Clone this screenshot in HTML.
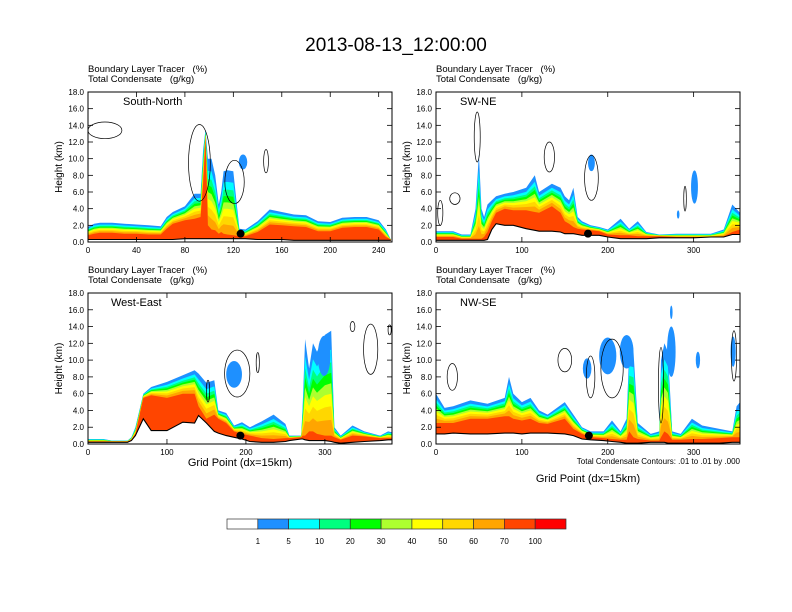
<!DOCTYPE html>
<html><head><meta charset="utf-8"><style>
body{margin:0;background:#fff;}
svg{display:block;font-family:"Liberation Sans",sans-serif;}
text{white-space:pre;}
</style></head><body>
<svg id="fig" width="792" height="612" viewBox="0 0 792 612">
<rect width="792" height="612" fill="#fff"/>
<text x="396" y="51" font-size="19" text-anchor="middle">2013-08-13_12:00:00</text>
<g id="panels"></g>
<g id="colorbar"></g>
<text x="740" y="464" font-size="8" text-anchor="end">Total Condensate Contours: .01 to .01 by .000</text>
</svg>
<script>
// ---- data ----
const yTicks = [0,2,4,6,8,10,12,14,16,18];
const levelLabels = ["1","5","10","20","30","40","50","60","70","100"];
const levelColors = ["#ffffff","#1e90ff","#00ffff","#00ff7f","#00ff00","#adff2f","#ffff00","#ffd700","#ffa500","#ff4500","#ff0000"];

const snX = [0,5,10,20,30,40,50,60,65,70,80,88,93,95,97,99,102,105,108,110,112,115,120,125,130,140,150,160,170,180,190,200,210,220,230,240,246,250];
const snBlue = [1.8,2.2,2.3,2.3,2.2,2.1,2.0,1.9,3.0,3.6,4.3,5.8,5.8,11,13.5,10,10,8,4.5,6,8.5,8.6,8.5,1.6,1.5,2.5,3.9,3.6,3.3,3.2,2.5,2.4,2.9,3.0,3.0,2.6,1.5,0.3];
const snRed = [0.8,1.0,1.1,1.1,1.0,1.0,0.9,0.9,1.6,2.2,2.6,2.8,3.0,7,12.5,2,1.5,1.4,1.0,1.2,1.0,0.9,0.8,0.7,0.7,1.2,2.1,2.0,1.9,1.8,1.3,1.3,1.7,1.8,1.8,1.5,0.6,0.3];
const snTerrain = [0.3,0.3,0.3,0.3,0.3,0.3,0.3,0.3,0.3,0.3,0.4,0.4,0.4,0.4,0.4,0.4,0.4,0.4,0.4,0.4,0.4,0.4,0.4,0.4,0.4,0.3,0.3,0.3,0.2,0.2,0.2,0.2,0.2,0.2,0.2,0.2,0.2,0.2];
const snBlobs = [[128,9.6,3.5,0.9]];
const snContours = [[92,9.5,9,4.6],[121,7.2,8,2.6],[147,9.7,2,1.4],[14,13.4,14,1.0]];

const swX = [0,20,30,40,46,50,53,56,60,65,70,80,90,105,115,120,135,145,150,155,160,165,170,180,190,200,215,225,235,245,260,280,300,320,335,345,354];
const swBlue = [1.3,1.3,0.9,0.9,4,10.5,4,3,4.5,5,5.5,5.8,6.0,6.5,8,6.0,7.0,6.5,5.5,5,6.5,3,2.5,2.0,1.8,1.5,2.8,1.6,2.5,1.2,0.9,1.0,1.0,1.0,1.5,4.5,3.5];
const swRed = [0.6,0.6,0.4,0.4,0.4,0.4,0.4,0.6,1.2,2.5,3.5,4.0,3.8,3.8,3.6,3.5,4.3,3.5,2.5,2.2,1.8,1.6,1.5,1.4,1.3,0.9,0.8,0.8,0.7,0.7,0.7,0.6,0.6,0.6,0.7,1.2,1.5];
const swTerrain = [0.2,0.2,0.2,0.2,0.2,0.2,0.2,0.2,0.3,1.5,2.2,2.0,2.0,1.6,1.4,1.3,1.3,1.2,1.0,1.0,1.0,0.9,0.8,0.8,0.8,0.6,0.4,0.4,0.4,0.4,0.5,0.5,0.5,0.6,0.6,0.9,0.9];
const swBlobs = [[181,9.5,4,1.0],[301,6.6,4,2.0],[282,3.3,1.5,0.5]];
const swContours = [[5,3.5,3,1.5],[22,5.2,6,0.7],[48,12.6,3.5,3],[132,10.2,6,1.8],[181,7.7,8,2.7],[290,5.2,1.5,1.5]];

const weX = [0,20,30,50,55,60,70,80,100,120,135,140,150,160,165,175,185,195,205,220,235,250,255,270,272,275,280,285,290,300,308,312,320,335,350,370,380,385];
const weBlue = [0.6,0.6,0.4,0.4,0.8,2.0,6.0,6.8,7.4,8.2,8.8,8.4,7.3,7.6,4,3.7,2.2,2.6,2.0,2.7,3.5,2.4,1.0,1.0,5,12.5,9,12,11,13,13.5,2,1.0,2.2,1.5,1.0,1.5,1.4];
const weRed = [0.3,0.3,0.3,0.3,0.5,1.2,5.5,5.8,5.5,6.0,6.0,4.5,3.0,3.5,3.0,2.5,1.5,1.2,1.0,0.7,0.6,0.7,0.7,0.8,1.0,1.0,1.5,1.5,1.2,1.0,1.0,0.8,0.5,1.0,0.9,0.7,0.7,0.7];
const weTerrain = [0.2,0.2,0.2,0.2,0.4,1.0,3.0,1.6,1.6,2.6,2.5,3.4,2.5,1.5,1.3,1.0,0.8,0.6,0.3,0.2,0.2,0.3,0.4,0.6,0.6,0.5,0.4,0.4,0.4,0.4,0.3,0.2,0.1,0.2,0.3,0.4,0.5,0.5];
const weBlobs = [[185,8.3,10,1.6],[299,10.5,8,2.4]];
const weContours = [[189,8.4,16,2.8],[215,9.7,2,1.2],[152,6.3,2,1.3],[358,11.3,9,3],[335,14,3,0.6],[382,13.6,2,0.6]];

const nwX = [0,10,20,40,60,80,85,90,100,110,120,130,150,160,170,180,195,205,215,222,225,230,235,250,260,262,266,270,275,285,298,310,330,345,350,354];
const nwBlue = [6.0,4.3,4.5,5.2,4.8,5.5,8,6,5.0,5.5,4.0,3.5,5.0,3.5,2.0,1.5,1.5,2.8,1.5,3,11,11,2.5,1.2,1.5,10,12,11,1.5,1.2,3,2.2,1.8,1.5,4.5,5];
const nwRed = [2.5,2.5,2.5,3.0,3.0,3.3,3.3,3.0,2.8,3.0,2.5,2.4,3.0,1.8,1.2,0.8,0.7,0.6,0.5,0.5,1.5,0.8,0.6,0.4,0.4,0.8,1.5,1.2,0.5,0.5,0.6,0.6,0.7,0.8,0.8,0.8];
const nwTerrain = [1.2,1.2,1.3,1.2,1.2,1.3,1.3,1.3,1.2,1.3,1.3,1.3,1.2,1.0,0.6,0.5,0.4,0.3,0.2,0.1,0.1,0.1,0.1,0.2,0.2,0.2,0.2,0.1,0.1,0.1,0.1,0.1,0.1,0.2,0.2,0.2];
const nwBlobs = [[176,9,5,1.2],[200,10.5,10,2.2],[222,11,8,2.0],[274,11,5,3.0],[274,15.7,1.5,0.8],[305,10,2.5,1.0],[346,11,3,1.8]];
const nwContours = [[19,8,6,1.6],[150,10,8,1.4],[180,8,5,2.5],[205,9,13,3.5],[262,7,3,4.5],[347,10.5,3,3]];

const panels = [
 {name:"south-north",label:"South-North",x0:88,y0:92,w:304,h:150,xmax:251,xTicks:[0,40,80,120,160,200,240],
  xs:snX,blue:snBlue,red:snRed,terr:snTerrain,blobs:snBlobs,cont:snContours,dot:126,xlabel:false},
 {name:"sw-ne",label:"SW-NE",x0:436,y0:92,w:304,h:150,xmax:354,xTicks:[0,100,200,300],
  xs:swX,blue:swBlue,red:swRed,terr:swTerrain,blobs:swBlobs,cont:swContours,dot:177,xlabel:false},
 {name:"west-east",label:"West-East",x0:88,y0:293,w:304,h:151,xmax:385,xTicks:[0,100,200,300],
  xs:weX,blue:weBlue,red:weRed,terr:weTerrain,blobs:weBlobs,cont:weContours,dot:193,xlabel:466},
 {name:"nw-se",label:"NW-SE",x0:436,y0:293,w:304,h:151,xmax:354,xTicks:[0,100,200,300],
  xs:nwX,blue:nwBlue,red:nwRed,terr:nwTerrain,blobs:nwBlobs,cont:nwContours,dot:178,xlabel:482}
];
// fraction of (blue -> red) for intermediate colour bands (style)
const bandFrac = [[1,"#1e90ff"],[0.82,"#00ffff"],[0.7,"#00ff7f"],[0.6,"#00ff00"],[0.5,"#adff2f"],[0.4,"#ffff00"],[0.28,"#ffd700"],[0.15,"#ffa500"],[0,"#ff4500"]];

const NS="http://www.w3.org/2000/svg";
function mk(tag,attrs,parent){const e=document.createElementNS(NS,tag);for(const k in attrs)e.setAttribute(k,attrs[k]);parent.appendChild(e);return e;}
const root=document.getElementById("panels");

panels.forEach((p,pi)=>{
  const sx=v=>p.x0+v/p.xmax*p.w;
  const sy=k=>p.y0+p.h-k/18*p.h;
  const g=mk("g",{},root);
  
  
  const cid="clip"+pi;
  const cp=mk("clipPath",{id:cid},g);
  mk("rect",{x:p.x0,y:p.y0,width:p.w,height:p.h},cp);
  const pg=mk("g",{"clip-path":"url(#"+cid+")"},g);
  bandFrac.forEach(([f,col],bi)=>{
    let pts=p.xs.map((x,i)=>{const t=p.red[i]+f*(p.blue[i]-p.red[i]);return sx(x).toFixed(1)+","+sy(t).toFixed(1);});
    pts.push(sx(p.xs[p.xs.length-1]).toFixed(1)+","+sy(0));
    pts.push(sx(p.xs[0]).toFixed(1)+","+sy(0));
    const poly=mk("polygon",{points:pts.join(" "),fill:col},pg);
    
    
  });
  p.blobs.forEach(b=>{
    const e=mk("ellipse",{cx:sx(b[0]),cy:sy(b[1]),rx:b[2]/p.xmax*p.w,ry:b[3]/18*p.h,fill:"#1e90ff"},pg);
    
    
  });
  let tp=p.xs.map((x,i)=>sx(x).toFixed(1)+","+sy(p.terr[i]).toFixed(1));
  const tpoly=mk("polygon",{points:tp.concat([sx(p.xs[p.xs.length-1])+","+sy(0),sx(0)+","+sy(0)]).join(" "),fill:"#fff"},pg);
  
  
  const tl=mk("polyline",{points:tp.join(" "),fill:"none",stroke:"#000","stroke-width":1.1},pg);
  
  
  p.cont.forEach(c=>{
    const e=mk("ellipse",{cx:sx(c[0]),cy:sy(c[1]),rx:c[2]/p.xmax*p.w,ry:c[3]/18*p.h,fill:"none",stroke:"#000","stroke-width":0.7},pg);
    
    
  });
  const d=mk("circle",{cx:sx(p.dot),cy:sy(1.0),r:4,fill:"#000"},pg);
  
  
  const fr=mk("rect",{x:p.x0,y:p.y0,width:p.w,height:p.h,fill:"none",stroke:"#000","stroke-width":1},g);
  
  
  yTicks.forEach(t=>{
    const y=sy(t);
    mk("line",{x1:p.x0,x2:p.x0+5,y1:y,y2:y,stroke:"#000","stroke-width":0.8},g);
    mk("line",{x1:p.x0+p.w,x2:p.x0+p.w-5,y1:y,y2:y,stroke:"#000","stroke-width":0.8},g);
    const tx=mk("text",{x:p.x0-4,y:y+3,"font-size":8,"text-anchor":"end"},g);
    tx.textContent=t.toFixed(1);
    
    
  });
  p.xTicks.forEach(t=>{
    const x=sx(t);
    mk("line",{x1:x,x2:x,y1:p.y0+p.h,y2:p.y0+p.h-5,stroke:"#000","stroke-width":0.8},g);
    mk("line",{x1:x,x2:x,y1:p.y0,y2:p.y0+5,stroke:"#000","stroke-width":0.8},g);
    const tx=mk("text",{x:x,y:p.y0+p.h+11,"font-size":8,"text-anchor":"middle"},g);
    tx.textContent=t;
    
    
  });
  const yl=mk("text",{x:0,y:0,"font-size":10,"text-anchor":"middle",transform:"translate("+(p.x0-26)+","+(p.y0+p.h/2)+") rotate(-90)"},g);
  yl.textContent="Height (km)";
  
  
  const h1=mk("text",{x:p.x0,y:p.y0-20,"font-size":9.5},g);
  h1.textContent="Boundary Layer Tracer   (%)";
  
  
  const h2=mk("text",{x:p.x0,y:p.y0-10,"font-size":9.5},g);
  h2.textContent="Total Condensate   (g/kg)";
  
  
  const lb=mk("text",{x:p.x0+(p.name==="west-east"?23:(p.name==="south-north"?35:24)),y:p.y0+13,"font-size":11},g);
  lb.textContent=p.label;
  
  
  if(p.xlabel){
    const xl=mk("text",{x:p.x0+p.w/2,y:p.xlabel,"font-size":11,"text-anchor":"middle"},g);
    xl.textContent="Grid Point (dx=15km)";
    
    
  }
});

const cb=document.getElementById("colorbar");
const cbx=227, cbw=339/levelColors.length;
levelColors.forEach((c,i)=>{
  const r=mk("rect",{x:cbx+i*cbw,y:519,width:cbw,height:10,fill:c,stroke:"#333","stroke-width":0.7},cb);
  
  
});
levelLabels.forEach((l,i)=>{
  const t=mk("text",{x:cbx+(i+1)*cbw,y:544,"font-size":8,"text-anchor":"middle"},cb);
  t.textContent=l;
  
  
});
</script>
</body></html>
